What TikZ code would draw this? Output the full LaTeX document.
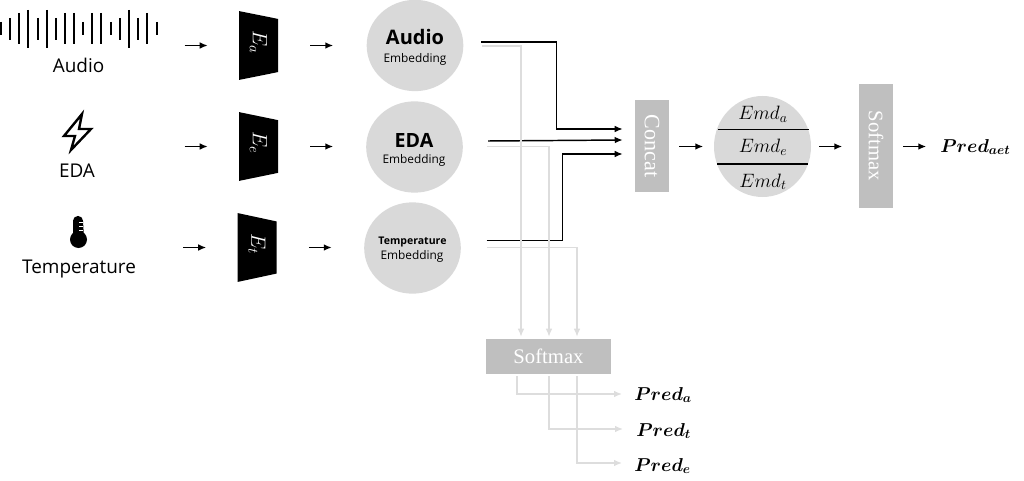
\documentclass[tikz,border=0pt]{standalone}
\usepackage{fix-cm}
\usepackage{amsmath}
\usepackage{fontspec}
\setmainfont{Open Sans}
\newfontfamily\boxfont{Liberation Serif}
\usetikzlibrary{calc, shapes.geometric, arrows.meta}
\definecolor{embgray}{HTML}{D9D9D9}
\definecolor{boxgray}{HTML}{BFBFBF}
\definecolor{auxgray}{HTML}{DDDDDD}
\tikzset{
    flow/.style={-{Latex[length=6pt,width=5pt]}, line width=1.1pt},
    auxflow/.style={-{Latex[length=6pt,width=5pt]}, line width=1pt, auxgray},
    encoder/.style={trapezium, fill=black, text=white, rotate=-90,
        trapezium stretches=true, trapezium angle=75.6, inner sep=0pt,
        minimum width=51.75pt, minimum height=29.25pt, font=\fontsize{15.5}{16}\selectfont},
    embedding/.style={ellipse, fill=embgray, inner sep=0pt,
        minimum width=72.5pt, minimum height=68.5pt},
    embtitle/.style={anchor=base, inner sep=0pt, font=\bfseries\fontsize{#1}{14}\selectfont},
    embsub/.style={anchor=base, inner sep=0pt, font=\fontsize{8.9}{12}\selectfont},
    graybox/.style={fill=boxgray, text=white, inner sep=0pt, font=\boxfont\fontsize{15.5}{16}\selectfont},
    srclabel/.style={anchor=base, inner sep=0pt, font=\fontsize{14.2}{16}\selectfont},
    emdlabel/.style={anchor=base, inner sep=0pt, font=\fontsize{14.5}{16}\selectfont},
    predlabel/.style={anchor=base west, inner sep=0pt, font=\fontsize{14}{16}\selectfont}
}
\newcommand{\predtext}[1]{$\boldsymbol{Pred}_{\boldsymbol{#1}}$}
\newcommand{\enctext}[1]{\raisebox{-3pt}{$E_{#1}$}\hspace*{5pt}}
\begin{document}
\begin{tikzpicture}[x=0.75pt, y=-0.75pt]
    \useasboundingbox (0, 0) rectangle (1024, 481);

    % sources
    \foreach \x/\top/\bot in {1/22/35, 10/18/40, 19/13/44, 28/10/48, 38/18/40,
        47/10/48, 56/18/40, 65/13/44, 74/13/44, 83/22/35, 92/13/44, 101/13/44,
        111/22/35, 120/18/40, 129/10/48, 138/18/40, 147/13/44, 157/22/35}
    \draw[line width=1.7pt] (\x, \top) -- (\x, \bot);
    \node[srclabel] (audio) at (78.5, 73) {Audio};

    \draw[line width=1.8pt, line join=miter] (82, 114) -- (64, 136) -- (75, 136)
        -- (71, 150) -- (91, 129) -- (79, 129) -- cycle;
    \node[srclabel] (eda) at (77, 177) {EDA};

    \fill (78.5, 239.5) circle (8.5);
    \draw[line width=1.5pt, fill=black] (74, 238) -- (74, 221)
        arc[start angle=180, end angle=0, x radius=4, y radius=-4] -- (83, 238) -- cycle;
    \draw[white, line width=0.7pt] (79, 222) -- (83, 222) (79, 226) -- (83, 226) (79, 230) -- (83, 230);
    \node[srclabel] (temp) at (79, 273) {Temperature};

    % encoders
    \node[encoder] (encA) at (258.5, 45.5) {\enctext{a}};
    \node[encoder] (encE) at (258.5, 146.5) {\enctext{e}};
    \node[encoder] (encT) at (257, 247.5) {\enctext{t}};

    % embeddings
    \node[embedding] (embA) at (415, 45.5) {};
    \node[embedding] (embE) at (414.5, 147) {};
    \node[embedding] (embT) at (412.5, 248) {};
    \node[embtitle=15] (titleA) at (415, 45) {Audio};
    \node[embsub] (subA) at (415, 63) {Embedding};
    \node[embtitle=14.7] (titleE) at (414, 147) {EDA};
    \node[embsub] (subE) at (414, 164) {Embedding};
    \node[embtitle=7.9] (titleT) at (412.5, 244) {Temperature};
    \node[embsub] (subT) at (412, 259) {Embedding};

    \foreach \enc/\emb in {encA/embA, encE/embE, encT/embT} {
        \draw[flow] ($(\enc.south) + (-54, 0)$) -- ($(\enc.south) + (-31, 0)$);
        \draw[flow] ($(\enc.north) + (32, 0)$) -- ($(\enc.north) + (55, 0)$);
    }

    % fusion
    \node[graybox, minimum width=25.5pt, minimum height=69pt, font=\boxfont\fontsize{16.5}{17}\selectfont] (concat) at (652, 146) {\rotatebox{-90}{Concat}};
    \node[ellipse, fill=embgray, inner sep=0pt, minimum width=72.75pt, minimum height=75.75pt] (fused) at (762.5, 146.5) {};
    \node[emdlabel] (emdA) at (763, 120) {$Emd_a$};
    \node[emdlabel] (emdE) at (763, 153) {$Emd_e$};
    \node[emdlabel] (emdT) at (763, 187) {$Emd_t$};
    \draw[line width=1pt] ($(fused.center) + (-44.5, -17)$) -- ($(fused.center) + (46.5, -17)$);
    \draw[line width=1pt] ($(fused.center) + (-45.5, 17.5)$) -- ($(fused.center) + (45.5, 17.5)$);
    \node[graybox, minimum width=25.5pt, minimum height=93pt] (softB) at (876, 146) {\rotatebox{-90}{Softmax}};
    \node[predlabel] (predAET) at (940, 152) {\predtext{aet}};

    \draw[flow] ($(embA.center) + (66, -3.5)$) -| ($(concat.west) + (-78, -17)$) -- ($(concat.west) + (-12, -17)$);
    \draw[flow] ($(embE.center) + (73.5, -6)$) -- ($(concat.west) + (-12, -6)$);
    \draw[flow] ($(embT.center) + (74, -7.5)$) -| ($(concat.west) + (-72, 8)$) -- ($(concat.west) + (-12, 8)$);
    \draw[flow] ($(concat.east) + (10, 0.5)$) -- ($(concat.east) + (34, 0.5)$);
    \draw[flow] ($(fused.east) + (8, 0)$) -- ($(fused.east) + (31, 0)$);
    \draw[flow] ($(softB.east) + (10, 0.5)$) -- ($(softB.east) + (33, 0.5)$);

    % auxiliary heads
    \node[graybox, minimum width=93.75pt, minimum height=26.25pt] (softA) at (548.5, 356.5) {Softmax};
    \node[predlabel] (predA) at (634, 400) {\predtext{a}};
    \node[predlabel] (predT) at (636, 436) {\predtext{t}};
    \node[predlabel] (predE) at (634, 471) {\predtext{e}};

    \draw[auxflow] ($(embA.center) + (67, 0.5)$) -| ($(softA.north) + (-27.5, -2)$);
    \draw[auxflow] ($(embE.center) + (72.5, -0.5)$) -| ($(softA.north) + (0.5, -2)$);
    \draw[auxflow] ($(embT.center) + (74.5, -0.5)$) -| ($(softA.north) + (28.5, -2)$);
    \draw[auxflow] ($(softA.south) + (-31.5, 2)$) |- ($(predA.base west) + (-12, -6)$);
    \draw[auxflow] ($(softA.south) + (0.5, 2)$) |- ($(predT.base west) + (-13, -7)$);
    \draw[auxflow] ($(softA.south) + (28.5, 2)$) |- ($(predE.base west) + (-12, -8)$);
\end{tikzpicture}
\end{document}
